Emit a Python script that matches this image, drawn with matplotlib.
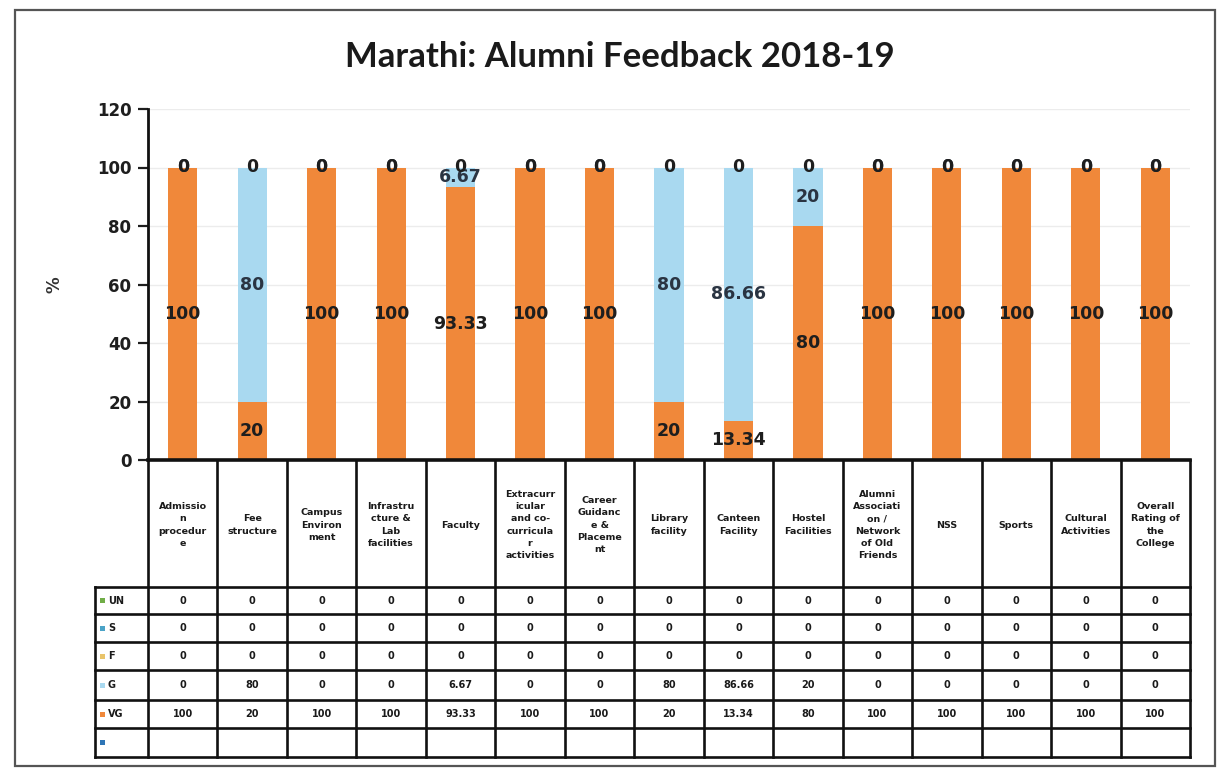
import matplotlib
matplotlib.use("Agg")
import matplotlib.pyplot as plt
import matplotlib.transforms as mtransforms
from matplotlib.patches import Rectangle
import numpy as np

# ---- data -------------------------------------------------------------
categories = [
    "Admissio\nn\nprocedur\ne",
    "Fee\nstructure",
    "Campus\nEnviron\nment",
    "Infrastru\ncture &\nLab\nfacilities",
    "Faculty",
    "Extracurr\nicular\nand co-\ncurricula\nr\nactivities",
    "Career\nGuidanc\ne &\nPlaceme\nnt",
    "Library\nfacility",
    "Canteen\nFacility",
    "Hostel\nFacilities",
    "Alumni\nAssociati\non /\nNetwork\nof Old\nFriends",
    "NSS",
    "Sports",
    "Cultural\nActivities",
    "Overall\nRating of\nthe\nCollege",
]
series_names = ["UN", "S", "F", "G", "VG", ""]
UN = [0, 0, 0, 0, 0, 0, 0, 0, 0, 0, 0, 0, 0, 0, 0]
S = [0, 0, 0, 0, 0, 0, 0, 0, 0, 0, 0, 0, 0, 0, 0]
F = [0, 0, 0, 0, 0, 0, 0, 0, 0, 0, 0, 0, 0, 0, 0]
G = [0, 80, 0, 0, 6.67, 0, 0, 80, 86.66, 20, 0, 0, 0, 0, 0]
VG = [100, 20, 100, 100, 93.33, 100, 100, 20, 13.34, 80, 100, 100, 100, 100, 100]
BLANK = [None] * 15
yticks = [0, 20, 40, 60, 80, 100, 120]

colors = {
    "UN": "#70AD47",
    "S": "#4BA3C7",
    "F": "#E9C46A",
    "G": "#A9D9F0",
    "VG": "#F0883A",
    "": "#2E75B6",
}

W, H = 1219, 769
fig = plt.figure(figsize=(W / 100, H / 100), dpi=100)
fig.patch.set_facecolor("white")

# chart axes (pixel box: x 148..1190, y 109..460)
ax = fig.add_axes([148 / W, 1 - 460 / H, (1190 - 148) / W, (460 - 109) / H])
x = np.arange(len(categories))
bw = 0.42

bottom = np.zeros(len(categories))
containers = {}
for name, vals in [("VG", VG), ("G", G), ("F", F), ("S", S), ("UN", UN)]:
    v = np.array(vals, dtype=float)
    containers[name] = ax.bar(x, v, bw, bottom=bottom, color=colors[name],
                              linewidth=0, zorder=2)
    bottom = bottom + v

def fmt(v):
    return f"{v:g}"

# value labels; the three empty series (UN, S, F) all sit at the top of the
# stack, so one of them carries the shared "0" label
for name, vals in [("VG", VG), ("G", G), ("UN", UN)]:
    ax.bar_label(containers[name], labels=[fmt(v) for v in vals],
                 label_type="center", fontsize=12.5, fontweight="bold",
                 color="#2A3442" if name == "G" else "#1E1E1E", zorder=4)

ax.set_xlim(-0.5, len(categories) - 0.5)
ax.set_ylim(0, 120)
ax.set_yticks(yticks)
ax.set_yticklabels([str(t) for t in yticks], fontsize=12, fontweight="bold",
                   color="#1E1E1E")
ax.set_xticks([])
ax.tick_params(axis="y", direction="out", length=7, width=1.6, pad=5,
               color="#1E1E1E")
ax.grid(axis="y", color="#ECECEC", linewidth=1, zorder=0)
ax.set_axisbelow(True)
for side in ("top", "right"):
    ax.spines[side].set_visible(False)
ax.spines["left"].set_linewidth(2)
ax.spines["bottom"].set_linewidth(2.6)
ax.spines["left"].set_color("#111111")
ax.spines["bottom"].set_color("#111111")
ax.set_ylabel("%", fontsize=12, fontweight="bold", color="#333333")
ax.yaxis.set_label_coords(-(148 - 64) / (1190 - 148), 0.5)

# title
fig.text(620 / W, 1 - 57 / H, "Marathi: Alumni Feedback 2018-19",
         ha="center", va="center", fontsize=25, fontweight="bold",
         family="Lato", color="#1A1A1A")

# overlay in pixel coordinates for the data table and the frame
ov = fig.add_axes([0, 0, 1, 1], zorder=5)
ov.set_xlim(0, W)
ov.set_ylim(H, 0)
ov.axis("off")
ov.patch.set_alpha(0)

# columns follow the chart's x scale, rows are in pixels
blend = mtransforms.blended_transform_factory(ax.transData, ov.transData)

top_y = 460
row_edges = [587, 614, 642, 670, 700, 728, 757]
label_left = 95
lw_tbl = 1.9

fig.canvas.draw()
right_px = ax.transData.transform((len(categories) - 0.5, 0))[0]

# vertical column separators
for e in np.arange(len(categories) + 1) - 0.5:
    ov.plot([e, e], [top_y, row_edges[-1]], color="#111111", lw=lw_tbl,
            transform=blend, solid_capstyle="projecting", zorder=3)
# row-label column left border
ov.plot([label_left, label_left], [row_edges[0], row_edges[-1]],
        color="#111111", lw=lw_tbl, solid_capstyle="projecting")
# horizontal row lines
for y in row_edges:
    ov.plot([label_left, right_px], [y, y], color="#111111", lw=lw_tbl,
            solid_capstyle="projecting")

# category headers
for i, c in enumerate(categories):
    ov.text(i, 525, c, transform=blend, ha="center", va="center",
            fontsize=6.8, fontweight="bold", linespacing=1.45,
            color="#1A1A1A")

# series rows
table_rows = [UN, S, F, G, VG, BLANK]
for r, (name, vals) in enumerate(zip(series_names, table_rows)):
    yc = (row_edges[r] + row_edges[r + 1]) / 2
    ov.add_patch(Rectangle((100, yc - 2.5), 5, 5, color=colors[name], lw=0))
    if name:
        ov.text(108, yc, name, ha="left", va="center", fontsize=7,
                fontweight="bold", color="#1A1A1A")
    for i, v in enumerate(vals):
        if v is None:
            continue
        ov.text(i, yc, fmt(v), transform=blend, ha="center", va="center",
                fontsize=7, fontweight="bold", color="#1A1A1A")

# outer frame of the chart area
ov.add_patch(Rectangle((15, 10), 1200, 756, fill=False, edgecolor="#555555",
                       lw=1.6))

fig.savefig("out.png", dpi=100, facecolor="white")
